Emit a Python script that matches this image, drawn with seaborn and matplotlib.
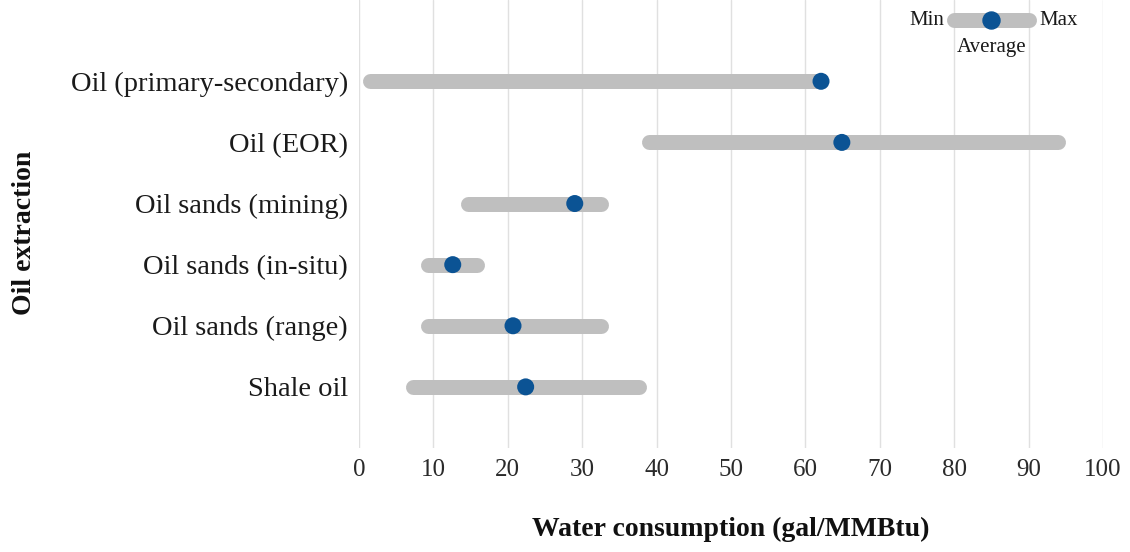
import matplotlib
matplotlib.use("Agg")
import matplotlib.pyplot as plt
import numpy as np
import pandas as pd
import seaborn as sns

# Water consumption ranges for oil extraction (gal/MMBtu)
categories = [
    "Oil (primary-secondary)",
    "Oil (EOR)",
    "Oil sands (mining)",
    "Oil sands (in-situ)",
    "Oil sands (range)",
    "Shale oil",
]
min_values = [1.5, 39.0, 14.6, 9.3, 9.3, 7.2]
max_values = [62.0, 94.0, 32.5, 15.8, 32.5, 37.6]
avg_values = [62.1, 64.9, 29.0, 12.6, 20.7, 22.4]
x_ticks = [0, 10, 20, 30, 40, 50, 60, 70, 80, 90, 100]

BAR_COLOR = "#bfbfbf"
DOT_COLOR = "#0b5394"
FONT = ["Liberation Serif", "DejaVu Serif"]

df = pd.DataFrame(
    {"category": categories, "min": min_values, "max": max_values, "avg": avg_values}
)
df["pos"] = np.arange(len(df))

sns.set_theme(style="whitegrid")
plt.rcParams["font.family"] = FONT

fig = plt.figure(figsize=(11.3, 5.52), dpi=100)
ax = fig.add_axes([0.3177, 0.1884, 0.6584, 0.8116])

# range bars
for _, row in df.iterrows():
    ax.plot(
        [row["min"], row["max"]], [row["pos"], row["pos"]],
        color=BAR_COLOR, linewidth=10.8, solid_capstyle="round", zorder=2,
    )

# average markers
sns.scatterplot(
    data=df, x="avg", y="pos", ax=ax, color=DOT_COLOR, s=150,
    edgecolor="none", zorder=3, legend=False,
)

# key in the top right corner
ax.plot([80, 90], [-1, -1], color=BAR_COLOR, linewidth=10.8,
        solid_capstyle="round", zorder=2, clip_on=False)
ax.scatter([85], [-1], color=DOT_COLOR, s=150, zorder=3, clip_on=False)
ax.text(78.6, -1, "Min", ha="right", va="center", fontsize=15, color="#1a1a1a")
ax.text(91.4, -1, "Max", ha="left", va="center", fontsize=15, color="#1a1a1a")
ax.text(85, -0.55, "Average", ha="center", va="center", fontsize=15, color="#1a1a1a")

ax.set_xlim(0, 100)
ax.set_ylim(len(df), -1.33)
ax.set_xticks(x_ticks)
ax.set_xticklabels([str(t) for t in x_ticks], fontsize=18, color="#2a2a2a")
ax.set_yticks(df["pos"])
ax.set_yticklabels(categories, fontsize=20.5, color="#1a1a1a")
ax.set_ylabel("")
ax.tick_params(axis="x", pad=8, length=0)
ax.tick_params(axis="y", pad=8, length=0)

ax.grid(axis="x", color="#e0e0e0", linewidth=1.0)
ax.grid(axis="y", visible=False)
for spine in ax.spines.values():
    spine.set_visible(False)

ax.set_xlabel("Water consumption (gal/MMBtu)", fontsize=20, fontweight="bold",
              labelpad=26, color="#111111")
fig.text(0.022, 0.578, "Oil extraction", rotation=90, fontsize=20,
         fontweight="bold", ha="center", va="center", color="#111111")

fig.savefig("out.png", dpi=100)
